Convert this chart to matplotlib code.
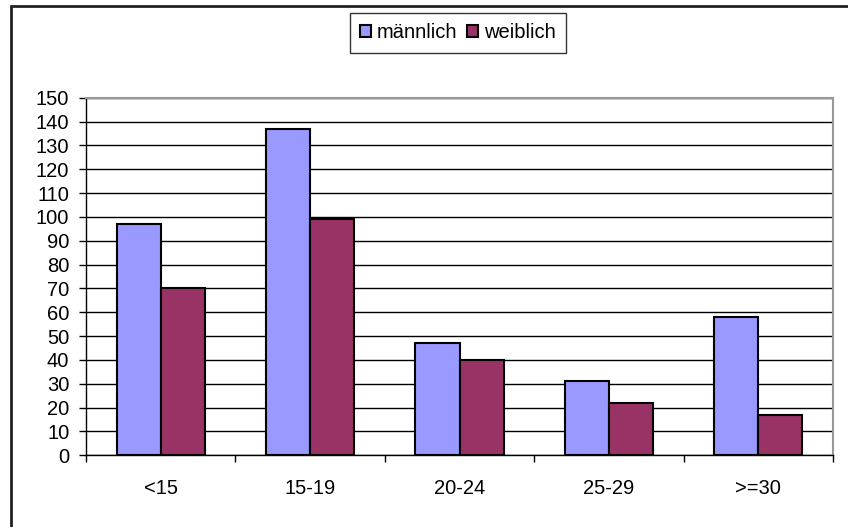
import numpy as np
import matplotlib
matplotlib.use("Agg")
from matplotlib import pyplot as plt
from matplotlib.patches import Rectangle

plt.rcParams['font.family'] = ['Liberation Sans', 'DejaVu Sans']

categories = ["<15", "15-19", "20-24", "25-29", ">=30"]
maennlich = [97, 137, 47, 31, 58]
weiblich = [70, 99, 40, 22, 17]
series_names = ["männlich", "weiblich"]
yticks = list(range(0, 151, 10))

fig = plt.figure(figsize=(8.48, 5.27), dpi=100)

# outer chart frame (only left and top edge are visible in the original)
frame = Rectangle((10.5 / 848, -0.05), 1.2, 1 - 5.5 / 527 + 0.05,
                  transform=fig.transFigure, fill=False,
                  edgecolor='#222222', linewidth=2.0, zorder=0)
fig.patches.append(frame)

ax = fig.add_axes([86 / 848, 1 - 455.3 / 527, (833 - 86) / 848, (455.3 - 97.7) / 527])

x = np.arange(len(categories))
w = 0.295
ax.bar(x - w / 2, maennlich, width=w, color='#9999ff', edgecolor='black',
       linewidth=1.5, label=series_names[0], zorder=3)
ax.bar(x + w / 2, weiblich, width=w, color='#993366', edgecolor='black',
       linewidth=1.5, label=series_names[1], zorder=3)

ax.set_xlim(-0.5, len(categories) - 0.5)
ax.set_ylim(0, 150)
ax.set_yticks(yticks)
ax.set_yticklabels([str(v) for v in yticks], fontsize=14.5)
ax.yaxis.grid(True, color='black', linewidth=1.0, zorder=0)
ax.set_axisbelow(True)

ax.set_xticks(x)
ax.set_xticklabels(categories, fontsize=14.5)
ax.tick_params(axis='x', length=0, pad=17)
ax.set_xticks(np.arange(len(categories) + 1) - 0.5, minor=True)
ax.tick_params(axis='x', which='minor', length=5, width=1, direction='out', color='black')
ax.tick_params(axis='y', length=5, width=1, direction='out', pad=7)

for side in ['top', 'right']:
    ax.spines[side].set_color('#999999')
    ax.spines[side].set_linewidth(1.5)
for side in ['left', 'bottom']:
    ax.spines[side].set_color('black')
    ax.spines[side].set_linewidth(1.0)

leg = fig.legend(loc='center', bbox_to_anchor=(458 / 848, 1 - 33 / 527), ncol=2,
                 fontsize=14.5, frameon=True, fancybox=False, edgecolor='black',
                 handlelength=0.55, handleheight=0.55, handletextpad=0.3,
                 columnspacing=0.5, borderpad=0.5)
leg.get_frame().set_linewidth(1.0)

fig.savefig("out.png", dpi=100)
